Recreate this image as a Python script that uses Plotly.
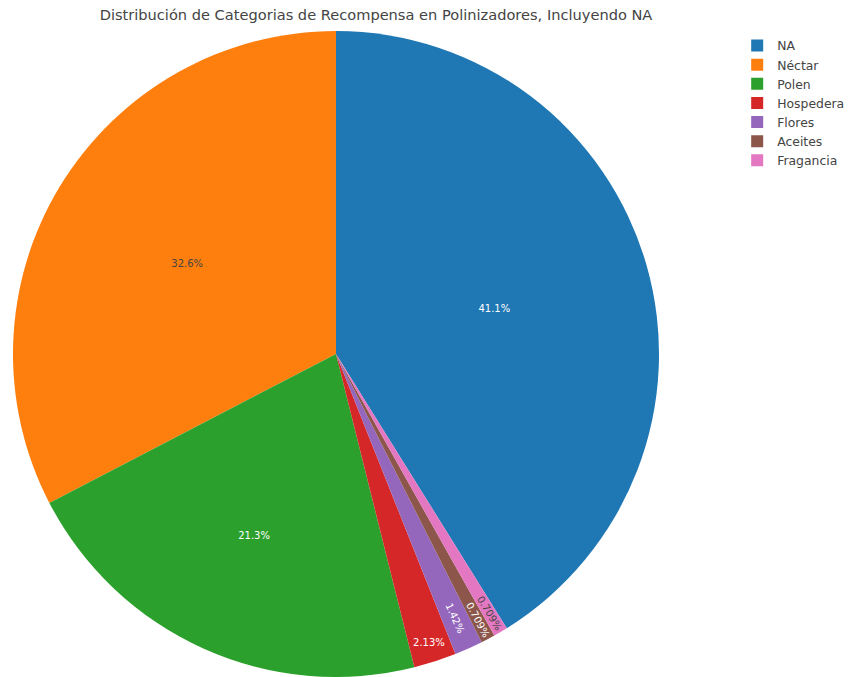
import plotly.graph_objects as go

categorias = ["NA", "Néctar", "Polen", "Hospedera", "Flores", "Aceites", "Fragancia"]
conteos = [58, 46, 30, 3, 2, 1, 1]
colores = ["#1f77b4", "#ff7f0e", "#2ca02c", "#d62728", "#9467bd", "#8c564b", "#e377c2"]

fig = go.Figure(
    go.Pie(
        labels=categorias,
        values=conteos,
        marker=dict(colors=colores),
        textinfo="percent",
        textposition="inside",
        insidetextorientation="auto",
        textfont=dict(size=10),
        sort=True,
        direction="counterclockwise",
    )
)

fig.update_layout(
    width=848,
    height=677,
    font=dict(family="DejaVu Sans", size=12, color="#444"),
    title=dict(text="Distribución de Categorias de Recompensa en Polinizadores, Incluyendo NA",
               x=376 / 848, xref="container", xanchor="center",
               y=1 - 15 / 677, yref="container", yanchor="middle",
               font=dict(size=14.6)),
    legend=dict(x=1.097, xanchor="left", y=1, yanchor="top", font=dict(size=12.4)),
    margin=dict(l=0, r=176, t=31, b=0, autoexpand=False),
    paper_bgcolor="white",
)

fig.write_html("out.html")
